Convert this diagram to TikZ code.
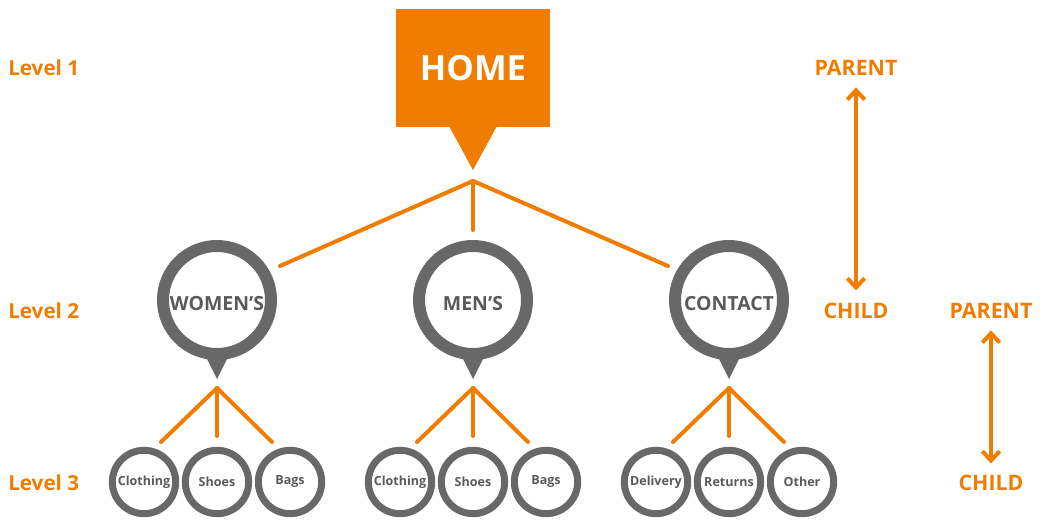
\documentclass[tikz,border=0pt]{standalone}
\usepackage{fontspec}
\setmainfont{Open Sans}
\usetikzlibrary{arrows.meta,calc}
\definecolor{org}{RGB}{240,125,0}
\definecolor{ringgrey}{RGB}{104,104,104}
\definecolor{txtgrey}{RGB}{90,90,90}
\newcommand{\lowtxt}[1]{\raisebox{-8.2pt}[0pt][0pt]{#1}}
\tikzset{
  conn/.style={draw=org, line width=3pt, line cap=round},
  ringtwo/.style={circle, draw=ringgrey, line width=9pt, minimum size=81pt, inner sep=0pt, text=txtgrey, font=\fontsize{14.6}{15}\selectfont\bfseries},
  ringthree/.style={circle, draw=ringgrey, line width=5.25pt, minimum size=47.5pt, inner sep=0pt, text=txtgrey, font=\fontsize{9.4}{10}\selectfont\bfseries},
  pointer/.style={fill=ringgrey},
  lvl/.style={anchor=west, inner sep=0pt, text=org, font=\fontsize{15.5}{16}\selectfont\bfseries},
  rel/.style={text=org, font=\fontsize{16}{17}\selectfont\bfseries},
  relarrow/.style={draw=org, line width=3pt, {Straight Barb[length=7pt,width=13pt]}-{Straight Barb[length=7pt,width=13pt]}},
}
\begin{document}
\begin{tikzpicture}[x=0.75pt,y=-0.75pt]
\useasboundingbox (0,0) rectangle (1040,520);
% level labels
\node[lvl] (l1) at (8,68) {Level 1};
\node[lvl] (l2) at (8,311) {Level 2};
\node[lvl] (l3) at (8,483) {Level 3};
% home
\node[fill=org, minimum width=115.5pt, minimum height=88.5pt, inner sep=0pt, text=white, font=\fontsize{26}{27}\selectfont\bfseries] (home) at (473,68) {HOME};
\fill[org] (449,126) -- (497,126) -- (473,170) -- cycle;
\coordinate (j1) at (473,181);
% level 2
\node[ringtwo] (w) at (217,300) {\lowtxt{WOMEN’S}};
\node[ringtwo] (m) at (473,300) {\lowtxt{MEN’S}};
\node[ringtwo] (c) at (729,300) {\lowtxt{CONTACT}};
\foreach \n in {w,m,c}{
  \fill[pointer] ($(\n.south)+(-12,-5)$) -- ($(\n.south)+(12,-5)$) -- ($(\n.south)+(0,19)$) -- cycle;
}
\coordinate (wt) at (280,266);
\coordinate (mt) at (473,230);
\coordinate (ct) at (668,266);
\draw[conn] (j1) -- (wt);
\draw[conn] (j1) -- (mt);
\draw[conn] (j1) -- (ct);
% level 3
\foreach \n/\x/\a/\b/\cc in {w/217/Clothing/Shoes/Bags, m/473/Clothing/Shoes/Bags, c/729/Delivery/Returns/Other}{
  \node[ringthree] (\n a) at (\x-73,482) {\a};
  \node[ringthree] (\n b) at (\x,482) {\b};
  \node[ringthree] (\n c) at (\x+73,482) {\cc};
  \coordinate (\n j) at (\x,388);
  \coordinate (\n ta) at (\x-56,442);
  \coordinate (\n tb) at (\x,436);
  \coordinate (\n tc) at (\x+55,442);
  \draw[conn] (\n j) -- (\n ta);
  \draw[conn] (\n j) -- (\n tb);
  \draw[conn] (\n j) -- (\n tc);
}
% parent / child
\node[rel] (p1) at (856,68) {PARENT};
\node[rel] (c1) at (856,311) {CHILD};
\node[rel] (p2) at (991,311) {PARENT};
\node[rel] (c2) at (991,483) {CHILD};
\draw[relarrow] ($(p1.south)+(0,7)$) -- ($(c1.north)+(0,-8)$);
\draw[relarrow] ($(p2.south)+(0,7)$) -- ($(c2.north)+(0,-7)$);
\end{tikzpicture}
\end{document}
